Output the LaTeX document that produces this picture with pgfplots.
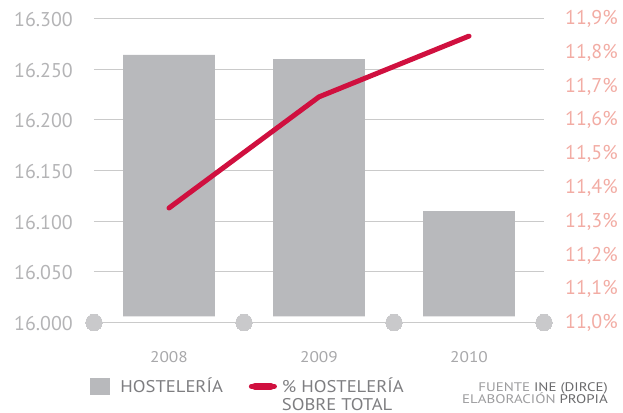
\documentclass[border=0pt]{standalone}
\usepackage{pgfplots}
\pgfplotsset{compat=1.18}
\usepackage{pgfplotstable}
\usepackage{fontspec}
\setmainfont{PT Sans}
\newfontfamily\legfont[FakeStretch=1.1]{PT Sans}
\newfontfamily\srcfont[FakeStretch=1.2]{PT Sans}
\newfontfamily\yearfont[FakeStretch=1.12]{PT Sans}
\definecolor{barg}{HTML}{B8B9BC}
\definecolor{gridc}{HTML}{CACACA}
\definecolor{circc}{HTML}{C9C9CB}
\definecolor{leftlab}{HTML}{B4B4B6}
\definecolor{rightlab}{HTML}{F2ACA4}
\definecolor{yearc}{HTML}{A8A8AA}
\definecolor{linered}{HTML}{D0103F}
\definecolor{legc}{HTML}{7E7E81}
\definecolor{srcl}{HTML}{9C9C9E}
\definecolor{srcd}{HTML}{6A6A6C}

\pgfplotstableread{
x year hos pct
0 2008 16264 11.339
1 2009 16260 11.668
2 2010 16110 11.848
}\datatable

\begin{document}
\begin{tikzpicture}
\pgfplotsset{base/.style={scale only axis, width=450bp, height=304bp,
  xmin=-0.5, xmax=2.5, at={(0,0)}, anchor=south west,
  axis line style={draw=none}, major tick length=0pt,
  /pgf/number format/assume math mode=true}}
% grid, left axis, years, circles
\begin{axis}[base, ymin=16000, ymax=16300, ytick={16000,16050,...,16300},
  scaled y ticks=false,
  yticklabel={\pgfmathprintnumber[fixed,precision=0,1000 sep={.}]{\tick}},
  yticklabel style={font=\fontsize{20}{20}\selectfont, text=leftlab, anchor=east, inner sep=0pt, xshift=-21bp, yshift=-1bp},
  ymajorgrids, grid style={gridc, line width=1.3bp},
  xtick={0,1,2}, xticklabels={2008,2009,2010},
  xticklabel style={font=\yearfont\fontsize{15.5}{15.5}\selectfont, text=yearc, anchor=base, inner sep=0pt, yshift=-40bp},
  clip=false]
\addplot[circc, only marks, mark=*, mark size=8.3bp, mark options={fill=circc, draw=circc, line width=0pt}]
  coordinates {(-0.5,16000) (0.5,16000) (1.5,16000) (2.5,16000)};
\end{axis}
% bars
\begin{axis}[base, at={(0,6.08bp)}, height=297.92bp, ymin=6, ymax=300, hide axis,
  ybar, bar width=0.613]
\addplot[fill=barg, draw=none] table[x=x, y expr=\thisrow{hos}-16000]{\datatable};
\end{axis}
% line, right axis, legend
\begin{axis}[base, ymin=11.0, ymax=11.9, hide x axis, axis y line*=right,
  ytick={11.0,11.1,11.2,11.3,11.4,11.5,11.6,11.7,11.8,11.9},
  yticklabel={\pgfmathprintnumber[fixed,fixed zerofill,precision=1,use comma]{\tick}\%},
  yticklabel style={font=\fontsize{20}{20}\selectfont, text=rightlab, anchor=west, inner sep=0pt, xshift=21bp, yshift=-0.5bp},
  legend columns=2,
  legend style={draw=none, fill=none, at={(axis description cs:-0.0089,-0.182)}, anchor=north west,
    inner sep=0pt, outer sep=0pt, font=\legfont\fontsize{17}{18}\selectfont, text=legc,
    nodes={inner sep=0pt, align=left},
    /tikz/every odd column/.append style={column sep=11bp},
    /tikz/every even column/.append style={column sep=26bp}},
  legend cell align=left]
\addlegendimage{legend image code/.code={\fill[barg] (0bp,-8.3bp) rectangle (19bp,8.3bp);}}
\addlegendentry{HOSTELERÍA}
\addplot[linered, line width=5bp, line cap=round, line join=round,
  legend image code/.code={\draw[linered, line width=7bp, line cap=round] (3.5bp,0bp) -- (19.5bp,0bp); \path (0bp,0bp) -- (23bp,0bp);}]
  table[x=x, y=pct]{\datatable};
\addlegendentry{\kern-6bp\raisebox{0pt}[\height][0pt]{\begin{tabular}[t]{@{}l@{}}\% HOSTELERÍA\\SOBRE TOTAL\end{tabular}}}
\end{axis}
\node[anchor=base east, inner sep=0pt, font=\srcfont\fontsize{12.5}{12.5}\selectfont] at (514bp,-69.3bp)
  {\textcolor{srcl}{FUENTE} \textcolor{srcd}{INE (DIRCE)}};
\node[anchor=base east, inner sep=0pt, font=\srcfont\fontsize{12.5}{12.5}\selectfont] at (514bp,-81bp)
  {\textcolor{srcl}{ELABORACIÓN} \textcolor{srcd}{PROPIA}};
\pgfresetboundingbox
\path[use as bounding box] (-94bp,-90.5bp) rectangle (529bp,322.5bp);
\end{tikzpicture}
\end{document}
